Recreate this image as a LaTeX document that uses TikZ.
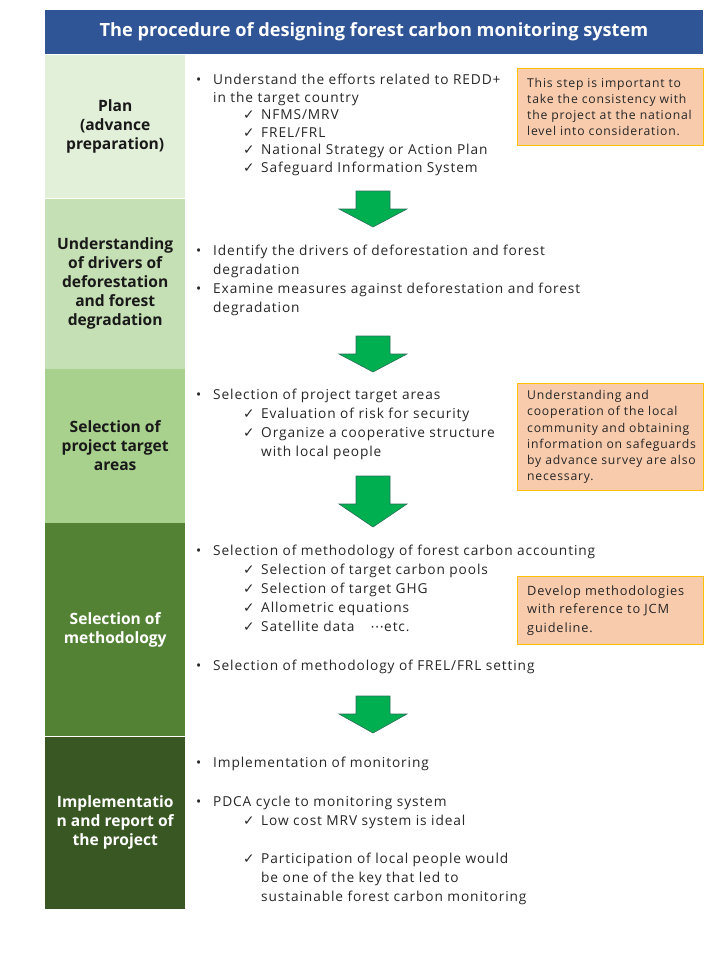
\documentclass[tikz,border=0pt]{standalone}
\usepackage{fontspec}
\setmainfont{Open Sans}[LetterSpace=6.5]
\newfontfamily\tightfam{Open Sans}
\newfontfamily\symfont{DejaVu Sans}
\usetikzlibrary{positioning}

\definecolor{titleblue}{RGB}{47,85,151}
\definecolor{bandA}{RGB}{226,240,217}
\definecolor{bandB}{RGB}{197,224,180}
\definecolor{bandC}{RGB}{169,209,142}
\definecolor{bandD}{RGB}{84,130,53}
\definecolor{bandE}{RGB}{56,87,35}
\definecolor{notefill}{RGB}{248,203,173}
\definecolor{noteedge}{RGB}{255,192,0}
\definecolor{flowgreen}{RGB}{0,176,80}
\definecolor{flowedge}{RGB}{40,110,90}
\definecolor{bodygray}{RGB}{38,38,38}

% fonts
\newcommand{\bodyfont}{\fontsize{13.7}{18.5}\selectfont}
\newcommand{\labelfont}{\tightfam\fontsize{15.6}{19}\selectfont\bfseries}
\newcommand{\notefont}{\fontsize{12.2}{16.2}\selectfont}
\newcommand{\jcmfont}{\fontsize{12.8}{18.5}\selectfont}
\newcommand{\titlefont}{\tightfam\fontsize{18.2}{20}\selectfont\bfseries}

% line starts: bullet, bullet continued, check, check continued
\newcommand{\bu}{\makebox[17pt][l]{\textbullet}}
\newcommand{\bc}{\hspace*{17pt}}
\newcommand{\ck}{\hspace*{47pt}\makebox[18pt][l]{\symfont ✓}}
\newcommand{\cc}{\hspace*{65pt}}

\begin{document}
\begin{tikzpicture}[
        %one unit is one pixel of the reference, y grows downwards
        x=1pt, y=-1pt,
        titlebar/.style={fill=titleblue, text=white, font=\titlefont,
            minimum width=658pt, minimum height=44pt, inner sep=0pt},
        band/.style={minimum width=140pt, inner sep=0pt, align=center,
            font=\labelfont, text=black!90},
        darkband/.style={band, text=white},
        body/.style={anchor=base west, inner sep=0pt, font=\bodyfont, text=bodygray},
        notebox/.style={fill=notefill, draw=noteedge, line width=0.9pt,
            minimum width=186pt, inner sep=0pt, anchor=north west},
        notetext/.style={anchor=west, inner sep=0pt, align=left,
            font=\notefont, text=bodygray},
        flow/.style={fill=flowgreen, draw=flowedge, line width=0.6pt, line join=miter}
     ]
\useasboundingbox (0,0) rectangle (720,960);

% title
\node[titlebar] (title) at (374,32) {The procedure of designing forest carbon monitoring system};

% steps on the left
\node[band, fill=bandA, minimum height=143pt, anchor=north west] (plan) at (45,55)
    {Plan\\(advance\\preparation)};
\node[band, fill=bandB, minimum height=170pt, below=0pt of plan] (drivers)
    {Understanding\\of drivers of\\deforestation\\and forest\\degradation};
\node[band, fill=bandC, minimum height=154pt, below=0pt of drivers] (areas)
    {Selection of\\project target\\areas};
\node[darkband, fill=bandD, minimum height=213pt, below=0pt of areas] (method)
    {Selection of\\methodology};
\node[darkband, fill=bandE, minimum height=172pt, below=0pt of method] (impl)
    {Implementatio\\n and report of\\the project};

% block arrows between the steps
\foreach \top/\neck/\tip in {191/209/227, 336/354/372, 476/504/527, 696/714/733}
    \draw[flow] (356,\top) -- (390,\top) -- (390,\neck) -- (407,\neck)
        -- (373,\tip) -- (339,\neck) -- (356,\neck) -- cycle;

% contents of each step
\foreach \yy/\pre/\txt [count=\i] in {85/\bu/{Understand the efforts related to REDD+},
        102.5/\bc/{in the target country}, 120/\ck/{NFMS/MRV}, 137.5/\ck/{FREL/FRL},
        155/\ck/{National Strategy or Action Plan}, 172.5/\ck/{Safeguard Information System}}
    \node[body] (plan-\i) at (196,\yy) {\pre\txt};

\foreach \yy/\pre/\txt [count=\i] in {255/\bu/{Identify the drivers of deforestation and forest},
        274/\bc/{degradation}, 293/\bu/{Examine measures against deforestation and forest},
        312/\bc/{degradation}}
    \node[body] (drivers-\i) at (196,\yy) {\pre\txt};

\foreach \yy/\pre/\txt [count=\i] in {399/\bu/{Selection of project target areas},
        418/\ck/{Evaluation of risk for security}, 437/\ck/{Organize a cooperative structure},
        456/\cc/{with local people}}
    \node[body] (areas-\i) at (196,\yy) {\pre\txt};

\foreach \yy/\pre/\txt [count=\i] in {555/\bu/{Selection of methodology of forest carbon accounting},
        574/\ck/{Selection of target carbon pools}, 593/\ck/{Selection of target GHG},
        612/\ck/{Allometric equations}, 631/\ck/{Satellite data\hspace{16pt}{\symfont ⋯}etc.},
        670/\bu/{Selection of methodology of FREL/FRL setting}}
    \node[body] (method-\i) at (196,\yy) {\pre\txt};

\foreach \yy/\pre/\txt [count=\i] in {767/\bu/{Implementation of monitoring},
        806/\bu/{PDCA cycle to monitoring system}, 825/\ck/{Low cost MRV system is ideal},
        863/\ck/{Participation of local people would}, 882/\cc/{be one of the key that led to},
        901/\cc/{sustainable forest carbon monitoring}}
    \node[body] (impl-\i) at (196,\yy) {\pre\txt};

% remarks on the right
\node[notebox, minimum height=77pt] (planbox) at (517,68) {};
\node[notetext] (plannote) at ([xshift=10pt]planbox.west)
    {This step is important to\\take the consistency with\\the project at the national\\level into consideration.};
\node[notebox, minimum height=107pt] (areasbox) at (517,383) {};
\node[notetext] (areasnote) at ([xshift=10pt]areasbox.west)
    {Understanding and\\cooperation of the local\\community and obtaining\\information on safeguards\\by advance survey are also\\necessary.};
\node[notebox, minimum height=68pt] (methodbox) at (517,576) {};
\node[notetext, font=\jcmfont] (methodnote) at ([xshift=10pt]methodbox.west)
    {Develop methodologies\\with reference to JCM\\guideline.};
\end{tikzpicture}
\end{document}
